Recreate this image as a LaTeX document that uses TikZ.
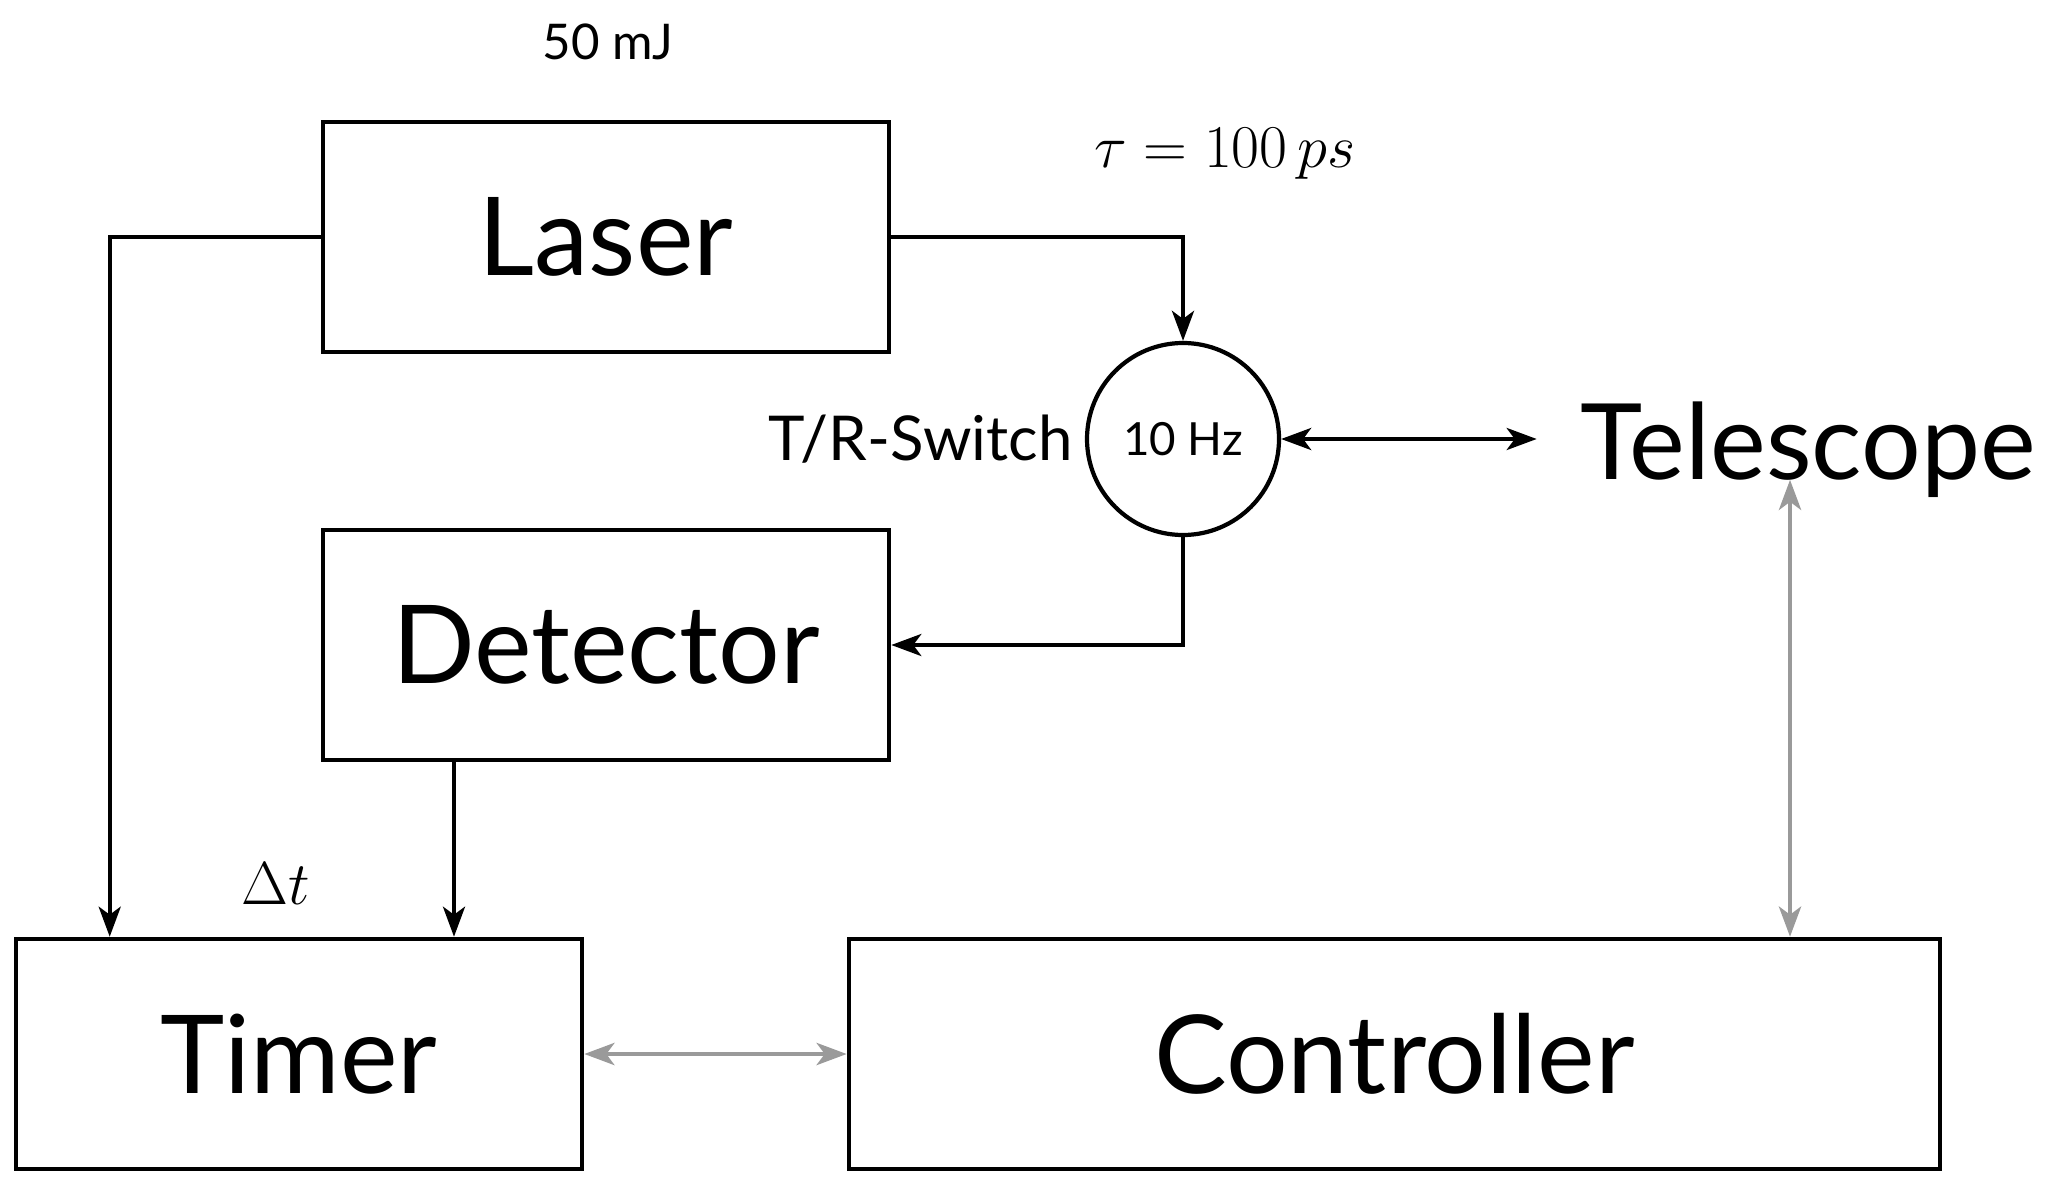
\documentclass[tikz,border=0pt]{standalone}
\usepackage{fontspec}
\setmainfont{Lato}
\usetikzlibrary{arrows.meta,positioning,calc}
\definecolor{linkgray}{HTML}{9A9A9A}

\tikzset{
  block/.style={draw,line width=1.3pt,minimum width=5.66cm,minimum height=2.30cm,font=\fontsize{31}{32}\selectfont},
  tip/.style={Stealth[length=0.3cm,width=0.22cm,inset=0.08cm]},
  flow/.style={line width=1.2pt,-{Stealth[length=0.3cm,width=0.22cm,inset=0.08cm]}},
  link/.style={line width=1.4pt,linkgray,{Stealth[length=0.3cm,width=0.22cm,inset=0.08cm]}-{Stealth[length=0.3cm,width=0.22cm,inset=0.08cm]}},
}

\begin{document}
\begin{tikzpicture}
  \useasboundingbox (0,0) rectangle (20.5,-11.78);
  % units
  \node[block] (laser) at (6.06,-2.37) {Laser};
  \node[block] (det) at (6.06,-6.45) {Detector};
  \node[block] (timer) at (2.99,-10.54) {Timer};
  \node[block,minimum width=10.91cm] (ctrl) at (13.945,-10.54) {Controller};
  % T/R switch and telescope
  \node[draw,circle,line width=1.2pt,minimum size=1.92cm,font=\fontsize{13}{14}\selectfont] (sw) at (11.83,-4.39) {10 Hz};
  \node[left=0pt of sw,font=\fontsize{17.6}{18}\selectfont] (swname) {T/R-Switch};
  \node[font=\fontsize{30}{31}\selectfont,inner sep=0pt] (tele) at (18.08,-4.5) {Telescope};
  % labels
  \node[font=\fontsize{14}{15}\selectfont] (energy) at (6.08,-0.42) {50 mJ};
  \node[font=\fontsize{17.5}{18}\selectfont] (pulse) at (12.25,-1.54) {$\tau=100\,ps$};
  \node[font=\fontsize{17.5}{18}\selectfont] (dt) at (2.76,-8.84) {$\Delta t$};
  % signal path
  \draw[flow] (laser.east) -| (sw.north);
  \draw[flow] (sw.south) |- (det.east);
  \draw[flow] (laser.west) -| ([xshift=0.96cm]timer.north west);
  \draw[flow] ([xshift=-1.52cm]det.south) -- ([xshift=-1.52cm]det.south |- timer.north);
  \draw[line width=1.2pt,{Stealth[length=0.3cm,width=0.22cm,inset=0.08cm]}-{Stealth[length=0.3cm,width=0.22cm,inset=0.08cm]},shorten >=0.43cm] (sw.east) -- (sw.east -| tele.west);
  % control links
  \draw[link] (timer.east) -- (ctrl.west);
  \draw[link] ([xshift=-0.18cm]tele.base) -- ([xshift=-0.18cm]tele.base |- ctrl.north);
\end{tikzpicture}
\end{document}
